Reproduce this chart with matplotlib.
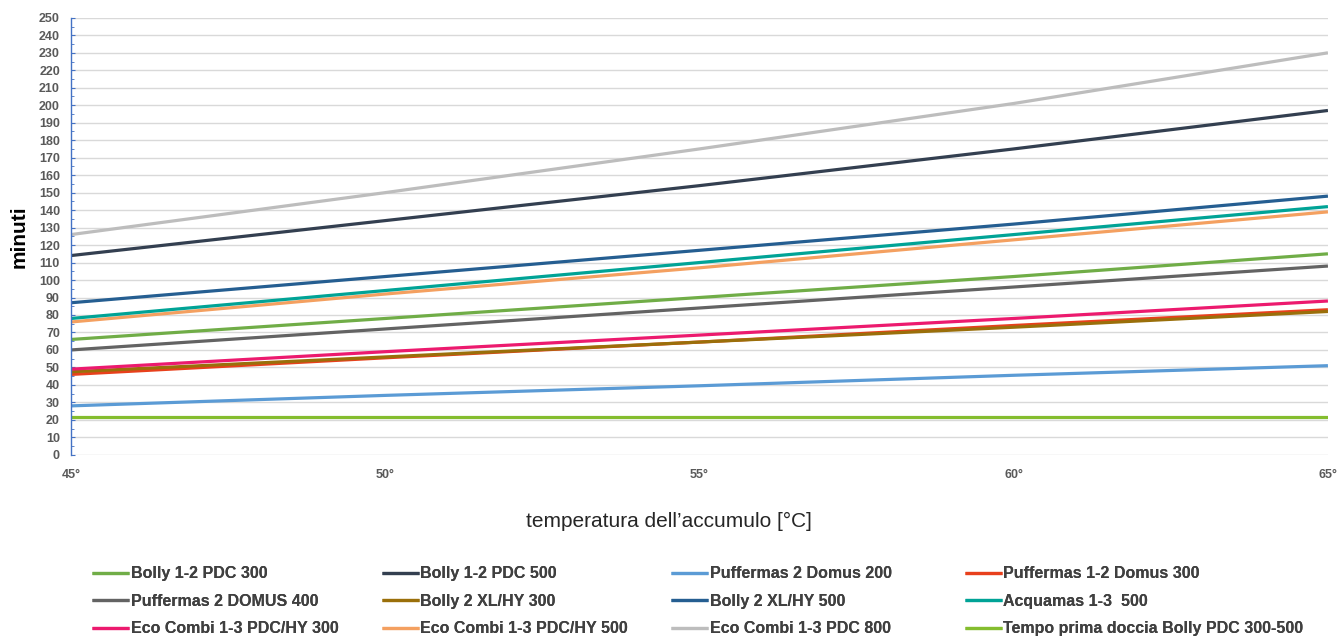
import matplotlib.pyplot as plt
import numpy as np

plt.rcParams['font.family'] = ['Liberation Sans', 'DejaVu Sans']

temps = [45, 50, 55, 60, 65]
tick_labels = ['45°', '50°', '55°', '60°', '65°']

names = [
    'Bolly 1-2 PDC 300', 'Bolly 1-2 PDC 500', 'Puffermas 2 Domus 200', 'Puffermas 1-2 Domus 300',
    'Puffermas 2 DOMUS 400', 'Bolly 2 XL/HY 300', 'Bolly 2 XL/HY 500', 'Acquamas 1-3  500',
    'Eco Combi 1-3 PDC/HY 300', 'Eco Combi 1-3 PDC/HY 500', 'Eco Combi 1-3 PDC 800',
    'Tempo prima doccia Bolly PDC 300-500',
]

bolly12_300 = [66, 78, 90, 102, 115]
bolly12_500 = [114, 134, 154, 175, 197]
puff2_200 = [28, 34, 39.5, 45.5, 51]
puff12_300 = [46, 55.5, 64.5, 74, 83]
puff2_400 = [60, 72, 84, 96, 108]
bolly2xl_300 = [47.5, 56, 64.5, 73, 82]
bolly2xl_500 = [87, 102, 117, 132, 148]
acquamas_500 = [78, 94, 110, 126, 142]
eco_hy_300 = [49, 59, 68.5, 78, 88]
eco_hy_500 = [76, 92, 107, 123, 139]
eco_800 = [126, 150, 175, 201, 230]
prima_doccia = [21.5, 21.5, 21.5, 21.5, 21.5]

series = [bolly12_300, bolly12_500, puff2_200, puff12_300, puff2_400, bolly2xl_300,
          bolly2xl_500, acquamas_500, eco_hy_300, eco_hy_500, eco_800, prima_doccia]
colors = ['#70AD47', '#333F50', '#5B9BD5', '#E8401C', '#636363', '#9A6F0A',
          '#255E91', '#00A396', '#EC1A6E', '#F4A060', '#BDBDBD', '#84BD2E']

# order in which lines are drawn (back to front)
draw_order = [11, 2, 3, 5, 8, 4, 0, 9, 7, 6, 1, 10]

fig = plt.figure(figsize=(13.4, 6.37), dpi=100)
ax = fig.add_axes([0.053, 0.286, 0.938, 0.686])

handles = {}
for i in draw_order:
    ln, = ax.plot(temps, series[i], color=colors[i], lw=2.3, solid_capstyle='butt', label=names[i])
    handles[i] = ln

ax.set_xlim(45, 65)
ax.set_ylim(0, 250)
ax.set_yticks(np.arange(0, 251, 10))
ax.set_yticks(np.arange(5, 250, 10), minor=True)
ax.set_xticks(temps)
ax.set_xticklabels(tick_labels)
ax.grid(axis='y', color='#D9D9D9', lw=1.0)
ax.set_axisbelow(True)
for s in ['top', 'right', 'bottom']:
    ax.spines[s].set_visible(False)
ax.spines['left'].set_color('#4472C4')
ax.spines['left'].set_linewidth(1.0)
ax.tick_params(axis='y', which='major', direction='in', length=3, color='#4472C4',
               labelsize=9, labelcolor='#595959', pad=8)
ax.tick_params(axis='y', which='minor', direction='in', length=2, color='#4472C4')
ax.tick_params(axis='x', length=0, labelsize=9, labelcolor='#595959', pad=10)
for lab in ax.get_yticklabels() + ax.get_xticklabels():
    lab.set_fontweight('bold')

ax.set_ylabel('minuti', fontsize=15, fontweight='bold', color='black', labelpad=7)
fig.text(0.499, 0.182, "temperatura dell\u2019accumulo [°C]", ha='center', va='center',
         fontsize=15, color='#262626')

# legend: four columns placed at fixed positions, filled row by row
col_x = [0.069, 0.285, 0.501, 0.720]
for c in range(4):
    idx = [c, c + 4, c + 8]
    leg = fig.legend([handles[i] for i in idx], [names[i] for i in idx],
                     loc='upper left', bbox_to_anchor=(col_x[c], 0.111), ncol=1,
                     frameon=False, handlelength=2.3, handletextpad=0.1,
                     labelspacing=0.78, borderaxespad=0, borderpad=0,
                     prop={'size': 11.5, 'weight': 'bold'})
    for t in leg.get_texts():
        t.set_color('#404040')
    fig.add_artist(leg)

fig.savefig('out.png', dpi=100)
